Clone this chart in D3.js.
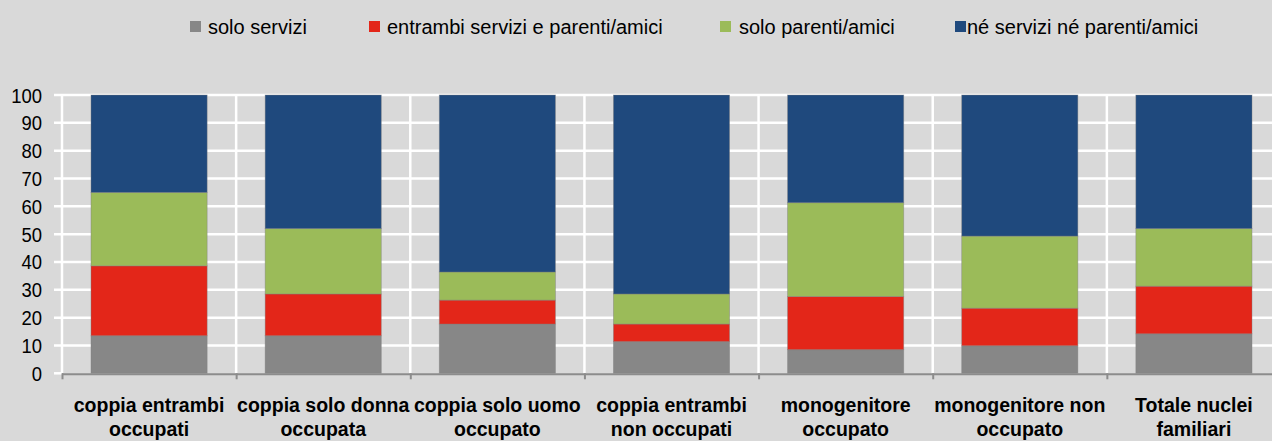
<!DOCTYPE html>
<html><head><meta charset="utf-8">
<script src="https://cdn.jsdelivr.net/npm/d3@7"></script>
<style>
html,body{margin:0;padding:0;background:#d9d9d9;}
svg{display:block;}
text{font-family:"Liberation Sans","Arial",sans-serif;}
</style></head>
<body><svg id="c" width="1272" height="441"></svg>
<script>
const categories = [
  ["coppia entrambi","occupati"],
  ["coppia solo donna","occupata"],
  ["coppia solo uomo","occupato"],
  ["coppia entrambi","non occupati"],
  ["monogenitore","occupato"],
  ["monogenitore non","occupato"],
  ["Totale nuclei","familiari"]
];
const seriesNames = ["solo servizi","entrambi servizi e parenti/amici","solo parenti/amici","né servizi né parenti/amici"];
const soloServizi   = [13.5, 13.5, 17.7, 11.4,  8.5,  9.9, 14.2];
const entrambi      = [25.1, 15.0,  8.6,  6.3, 19.1, 13.5, 17.1];
const soloParenti   = [26.4, 23.5, 10.1, 10.8, 33.7, 25.9, 20.7];
const ne            = [35.0, 48.0, 63.6, 71.5, 38.7, 50.7, 48.0];
const yTicks = [0,10,20,30,40,50,60,70,80,90,100];
const colors = ["#878787","#e32619","#9bbb59","#1f497d"];

const svg = d3.select("#c");
const pL = 62, pR = 1281, pT = 95, pB = 373.3;
const keys = categories.map((c,i)=>i);
const x = d3.scaleBand().domain(keys).range([pL,pR]).paddingInner(0.333).paddingOuter(0.1665);
const xb = d3.scaleBand().domain(keys).range([pL,pR]);
const y = d3.scaleLinear().domain([0,100]).range([pB,pT]);

// grid
const g = svg.append("g");
g.selectAll("line.h").data(yTicks.slice(1)).join("line")
  .attr("x1",pL-8).attr("x2",1272).attr("y1",d=>y(d)).attr("y2",d=>y(d))
  .attr("stroke","#fff").attr("stroke-width",2.5);
g.selectAll("line.v").data(keys).join("line")
  .attr("x1",d=>xb(d)).attr("x2",d=>xb(d)).attr("y1",pT).attr("y2",pB)
  .attr("stroke","#fff").attr("stroke-width",2.5);
g.append("line").attr("x1",pL-8).attr("x2",pL).attr("y1",pB).attr("y2",pB).attr("stroke","#fff").attr("stroke-width",2.5);

// stacked data
const rows = keys.map(i=>({i, a:soloServizi[i], b:entrambi[i], c:soloParenti[i], d:ne[i]}));
const stack = d3.stack().keys(["a","b","c","d"])(rows);
svg.append("g").selectAll("g").data(stack).join("g")
  .attr("fill",(d,k)=>colors[k])
  .selectAll("rect").data(d=>d).join("rect")
  .attr("x",d=>x(d.data.i)).attr("width",x.bandwidth())
  .attr("y",d=>y(d[1])).attr("height",d=>y(d[0])-y(d[1]))
  .attr("stroke","rgba(128,128,128,0.5)").attr("stroke-width",0.8);

// x axis
const xa = svg.append("g");
xa.append("line").attr("x1",pL).attr("x2",1272).attr("y1",pB+1).attr("y2",pB+1).attr("stroke","#8c8c8c").attr("stroke-width",2);
xa.selectAll("line.t").data(keys).join("line")
  .attr("x1",d=>xb(d)+0.5).attr("x2",d=>xb(d)+0.5).attr("y1",pB).attr("y2",pB+6)
  .attr("stroke","#8c8c8c").attr("stroke-width",2);
const lab = xa.selectAll("text").data(keys).join("text")
  .attr("x",d=>xb(d)+xb.bandwidth()/2).attr("y",412)
  .attr("text-anchor","middle").attr("font-size",19.5).attr("font-weight","bold").attr("fill","#000");
lab.selectAll("tspan").data(d=>categories[d]).join("tspan")
  .attr("x",function(){return d3.select(this.parentNode).attr("x");})
  .attr("dy",(d,j)=>j?24:0).text(d=>d);

// y labels
svg.append("g").selectAll("text").data(yTicks).join("text")
  .attr("transform",d=>`translate(42,${y(d)+7.5}) scale(0.88,1)`)
  .attr("text-anchor","end")
  .attr("font-size",21).attr("fill","#000").text(d=>d);

// legend
const legX = [190, 369, 720, 955];
const lg = svg.append("g").selectAll("g").data(seriesNames).join("g")
  .attr("transform",(d,i)=>`translate(${legX[i]},0)`);
lg.append("rect").attr("x",0).attr("y",21).attr("width",11).attr("height",11).attr("fill",(d,i)=>colors[i]);
lg.append("text").attr("x",(d,i)=>[18,18,19,12][i]).attr("y",34).attr("font-size",20).attr("fill","#000").text(d=>d);
</script></body></html>
